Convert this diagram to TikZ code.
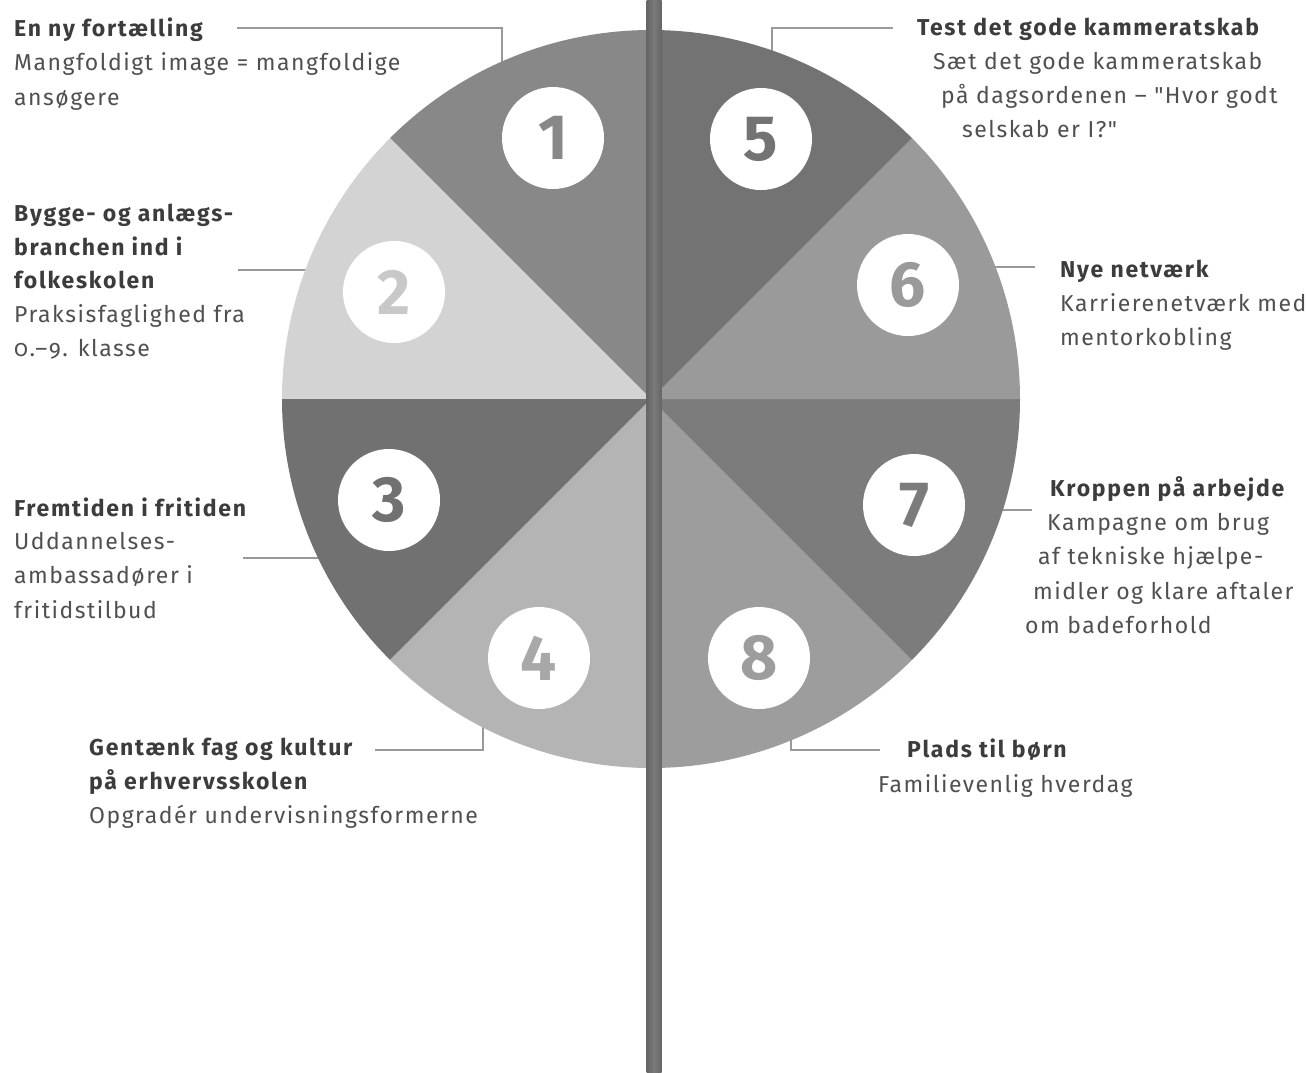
\documentclass[tikz,border=0pt]{standalone}
\usepackage{fontspec}
\setmainfont{Fira Sans}[LetterSpace=6.5, Ligatures=TeXOff]
\definecolor{s1}{HTML}{888888}
\definecolor{s2}{HTML}{D3D3D3}
\definecolor{s3}{HTML}{717171}
\definecolor{s4}{HTML}{B4B4B4}
\definecolor{s5}{HTML}{737373}
\definecolor{s6}{HTML}{9A9A9A}
\definecolor{s7}{HTML}{7C7C7C}
\definecolor{s8}{HTML}{9D9D9D}
\definecolor{n2c}{HTML}{C8C8C8}
\definecolor{n4c}{HTML}{A8A8A8}
\definecolor{tcol}{HTML}{3C3C3C}
\definecolor{bcol}{HTML}{505050}
\definecolor{lcol}{HTML}{999999}
\definecolor{pole}{HTML}{666666}
\definecolor{polehi}{HTML}{7A7A7A}
\begin{document}
\begin{tikzpicture}[x=1pt,y=-1pt,
  ttl/.style={anchor=base west, inner sep=0pt, font=\fontsize{23}{27}\selectfont\bfseries\addfontfeatures{LetterSpace=7.5}, text=tcol},
  bdy/.style={anchor=base west, inner sep=0pt, font=\fontsize{23}{27}\selectfont, text=bcol},
  lead/.style={draw=lcol, line width=1.6pt},
  numc/.style={circle, fill=white, minimum size=102pt, inner sep=0pt, font=\fontsize{64}{64}\selectfont\bfseries}]
\useasboundingbox (0,0) rectangle (1306,1072);
\fill[white] (0,0) rectangle (1306,1072);
\coordinate (C) at (651,399);

% leader lines (drawn first, hidden inside the disc)
\coordinate (L1a) at (237,28); \coordinate (L1b) at (502,28); \coordinate (L1c) at (502,90);
\coordinate (L5a) at (893,28); \coordinate (L5b) at (772,28); \coordinate (L5c) at (772,90);
\coordinate (L2a) at (238,270); \coordinate (L2b) at (330,270);
\coordinate (L6a) at (1035,267); \coordinate (L6b) at (980,267);
\coordinate (L3a) at (243,558); \coordinate (L3b) at (340,558);
\coordinate (L7a) at (1032,510); \coordinate (L7b) at (990,510);
\coordinate (L4a) at (375,750); \coordinate (L4b) at (483,750); \coordinate (L4c) at (483,700);
\coordinate (L8a) at (880,750); \coordinate (L8b) at (791,750); \coordinate (L8c) at (791,700);
\draw[lead] (L1a) -- (L1b) -- (L1c);
\draw[lead] (L5a) -- (L5b) -- (L5c);
\draw[lead] (L2a) -- (L2b);
\draw[lead] (L6a) -- (L6b);
\draw[lead] (L3a) -- (L3b);
\draw[lead] (L7a) -- (L7b);
\draw[lead] (L4a) -- (L4b) -- (L4c);
\draw[lead] (L8a) -- (L8b) -- (L8c);

% sectors
\foreach \a/\col in {90/s1,135/s2,180/s3,225/s4,270/s8,315/s7,0/s6,45/s5}
  \fill[\col] (C) -- ++(-\a:369) arc[start angle=-\a, end angle=-\a-45, radius=369] -- cycle;

% pole
\shade[left color=pole, right color=pole, middle color=polehi] (646.5,0) rectangle (661.5,1072);

% number discs
\node[numc, text=s1] (n1) at (553,138) {1};
\node[numc, text=s5] (n5) at (761,139) {5};
\node[numc, text=n2c] (n2) at (394,292) {2};
\node[numc, text=s6] (n6) at (908,285) {6};
\node[numc, text=s3] (n3) at (389,500) {3};
\node[numc, text=s7] (n7) at (914,505) {7};
\node[numc, text=n4c] (n4) at (539,658) {4};
\node[numc, text=s8] (n8) at (759,658) {8};

% texts left
\node[ttl] (t1a) at (14,36) {En ny fortælling};
\node[bdy] (t1b) at (14,70) {Mangfoldigt image = mangfoldige};
\node[bdy] (t1c) at (14,105) {ansøgere};

\node[ttl] (t2a) at (14,221) {Bygge- og anlægs-};
\node[ttl] (t2b) at (14,255) {branchen ind i};
\node[ttl] (t2c) at (14,288) {folkeskolen};
\node[bdy] (t2d) at (14,322) {Praksisfaglighed fra};
\node[bdy] (t2e) at (14,356) {{\addfontfeatures{Numbers=OldStyle}0.–9.} klasse};

\node[ttl] (t3a) at (14,516) {Fremtiden i fritiden};
\node[bdy] (t3b) at (14,549) {Uddannelses-};
\node[bdy] (t3c) at (14,583) {ambassadører i};
\node[bdy] (t3d) at (14,618) {fritidstilbud};

\node[ttl] (t4a) at (89,755) {Gentænk fag og kultur};
\node[ttl] (t4b) at (89,789) {på erhvervsskolen};
\node[bdy] (t4c) at (89,823) {Opgradér undervisningsformerne};

% texts right
\node[ttl] (t5a) at (917,35) {Test det gode kammeratskab};
\node[bdy] (t5b) at (933,69) {Sæt det gode kammeratskab};
\node[bdy] (t5c) at (941,103) {på dagsordenen – "Hvor godt};
\node[bdy] (t5d) at (962,137) {selskab er I?"};

\node[ttl] (t6a) at (1060,277) {Nye netværk};
\node[bdy] (t6b) at (1060,311) {Karrierenetværk med};
\node[bdy] (t6c) at (1060,345) {mentorkobling};

\node[ttl] (t7a) at (1050,496) {Kroppen på arbejde};
\node[bdy] (t7b) at (1047,530) {Kampagne om brug};
\node[bdy] (t7c) at (1038,564) {af tekniske hjælpe-};
\node[bdy] (t7d) at (1033,599) {midler og klare aftaler};
\node[bdy] (t7e) at (1025,633) {om badeforhold};

\node[ttl] (t8a) at (907,757) {Plads til børn};
\node[bdy] (t8b) at (878,792) {Familievenlig hverdag};
\end{tikzpicture}
\end{document}
